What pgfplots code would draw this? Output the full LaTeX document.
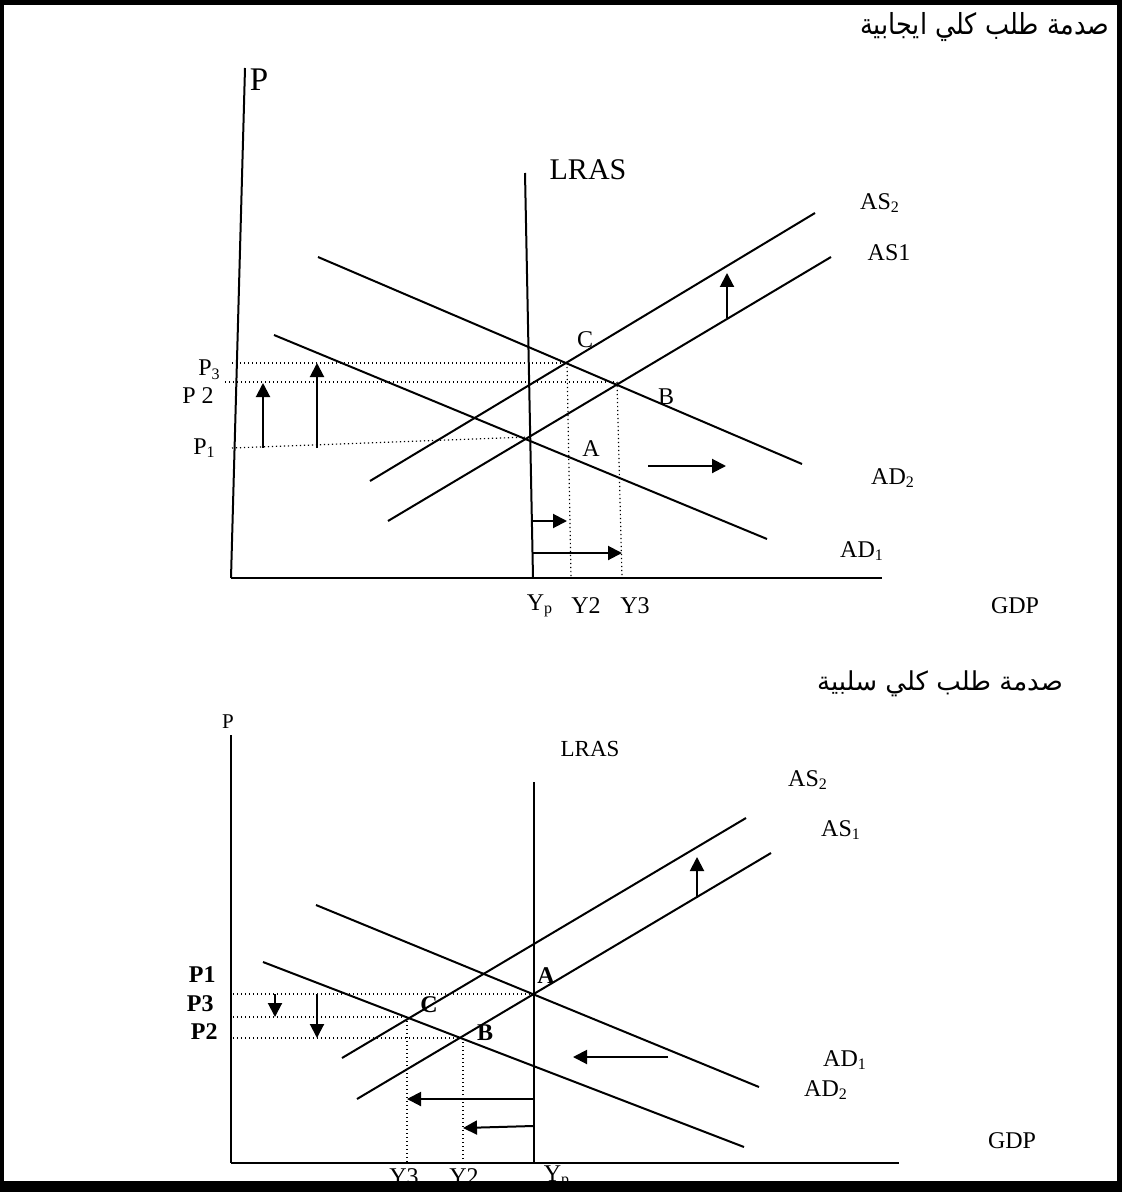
\documentclass[border=0pt]{standalone}
\usepackage{pgfplots}
\pgfplotsset{compat=1.18}
\usetikzlibrary{arrows.meta}
\usepackage{graphicx}
\usepackage{fontspec}
\setmainfont{Liberation Serif}
\newfontfamily\arabicfont[Script=Arabic]{DejaVu Sans}
\TeXXeTstate=1

\newcommand{\fs}[1]{\fontsize{#1}{#1}\selectfont}
\tikzset{
  curve/.style={black, line width=1pt},
  guide/.style={black, line width=0.6pt, dash pattern=on 0.6pt off 1.4pt},
  arr/.style={black, line width=1pt, -{Triangle[length=7pt,width=7pt]}},
  lbl/.style={inner sep=0pt, font=\fs{12}},
}

\begin{document}
\begin{tikzpicture}
\begin{axis}[
  x=0.5pt, y=0.5pt, y dir=reverse,
  xmin=0, xmax=1122, ymin=0, ymax=1192,
  hide axis, clip=false, scale only axis,
  every axis plot/.append style={no markers},
]
% ---------- positive demand shock ----------
% axes
\addplot[curve] coordinates {(245,68) (231,578)};
\addplot[curve] coordinates {(231,578) (882,578)};
% long-run supply
\addplot[curve] coordinates {(525,173) (533,578)};
% demand curves
\addplot[curve] coordinates {(318,257) (802,464)};   % AD2
\addplot[curve] coordinates {(274,335) (767,539)};   % AD1
% short-run supply curves
\addplot[curve] coordinates {(370,481) (815,213)};   % AS2
\addplot[curve] coordinates {(388,521) (831,257)};   % AS1
% price and output guides
\addplot[guide] coordinates {(232,363) (567,363)};
\addplot[guide] coordinates {(225,382) (617,382)};
\addplot[guide] coordinates {(232,448) (528,437)};
\addplot[guide] coordinates {(567,363) (571,578)};
\addplot[guide] coordinates {(617,382) (622,578)};
% shift arrows
\addplot[arr] coordinates {(263,448) (263,383)};
\addplot[arr] coordinates {(317,448) (317,363)};
\addplot[arr] coordinates {(727,318) (727,273)};
\addplot[arr] coordinates {(648,466) (726,466)};
\addplot[arr] coordinates {(532,521) (567,521)};
\addplot[arr] coordinates {(533,553) (622,553)};
% labels
\node[lbl, font=\fs{16.5}] at (axis cs:259,80) {P};
\node[lbl, font=\fs{15}] at (axis cs:588,170) {LRAS};
\node[lbl] at (axis cs:880,203) {AS\textsubscript{2}};
\node[lbl] at (axis cs:889,253) {AS1};
\node[lbl] at (axis cs:585,340) {C};
\node[lbl] at (axis cs:666,397) {B};
\node[lbl] at (axis cs:591,449) {A};
\node[lbl, anchor=east] at (axis cs:221,370) {P\textsubscript{3}};
\node[lbl, anchor=east] at (axis cs:214,396) {P 2};
\node[lbl, anchor=east] at (axis cs:216,448) {P\textsubscript{1}};
\node[lbl] at (axis cs:540,606) {Y\textsubscript{p}};
\node[lbl] at (axis cs:586,606) {Y2};
\node[lbl] at (axis cs:635,606) {Y3};
\node[lbl] at (axis cs:1015,606) {GDP};
\node[lbl] at (axis cs:893,478) {AD\textsubscript{2}};
\node[lbl] at (axis cs:862,551) {AD\textsubscript{1}};
\node[lbl, anchor=east] at (axis cs:1110,27)
  {\scalebox{0.88}[1]{\arabicfont\fs{14.5}\beginR صدمة طلب كلي ايجابية\endR}};

% ---------- negative demand shock ----------
\addplot[curve] coordinates {(231,735) (231,1163)};
\addplot[curve] coordinates {(231,1163) (899,1163)};
\addplot[curve] coordinates {(534,782) (534,1163)};
\addplot[curve] coordinates {(316,905) (759,1087)};   % AD1
\addplot[curve] coordinates {(263,962) (744,1147)};   % AD2
\addplot[curve] coordinates {(342,1058) (746,818)};   % AS2
\addplot[curve] coordinates {(357,1099) (771,853)};   % AS1
\addplot[guide] coordinates {(233,994) (534,994)};
\addplot[guide] coordinates {(233,1017) (407,1017)};
\addplot[guide] coordinates {(233,1038) (462,1038)};
\addplot[guide] coordinates {(407,1017) (407,1163)};
\addplot[guide] coordinates {(463,1038) (463,1163)};
\addplot[arr] coordinates {(275,994) (275,1017)};
\addplot[arr] coordinates {(317,994) (317,1038)};
\addplot[arr] coordinates {(697,898) (697,857)};
\addplot[arr] coordinates {(668,1057) (573,1057)};
\addplot[arr] coordinates {(533,1099) (407,1099)};
\addplot[arr] coordinates {(533,1126) (463,1128)};
\node[lbl, font=\fs{10.5}] at (axis cs:228,722) {P};
\node[lbl, font=\fs{11.5}] at (axis cs:590,749) {LRAS};
\node[lbl] at (axis cs:808,780) {AS\textsubscript{2}};
\node[lbl] at (axis cs:841,830) {AS\textsubscript{1}};
\node[lbl, font=\fs{12}\bfseries] at (axis cs:546,976) {A};
\node[lbl, font=\fs{12}\bfseries] at (axis cs:429,1005) {C};
\node[lbl, font=\fs{12}\bfseries] at (axis cs:485,1033) {B};
\node[lbl, font=\fs{12}\bfseries, anchor=east] at (axis cs:216,975) {P1};
\node[lbl, font=\fs{12}\bfseries, anchor=east] at (axis cs:214,1004) {P3};
\node[lbl, font=\fs{12}\bfseries, anchor=east] at (axis cs:218,1032) {P2};
\node[lbl] at (axis cs:404,1177) {Y3};
\node[lbl] at (axis cs:464,1177) {Y2};
\node[lbl] at (axis cs:557,1177) {Y\textsubscript{p}};
\node[lbl] at (axis cs:1012,1141) {GDP};
\node[lbl] at (axis cs:845,1060) {AD\textsubscript{1}};
\node[lbl] at (axis cs:826,1090) {AD\textsubscript{2}};
\node[lbl] at (axis cs:940,684)
  {\arabicfont\fs{13}\beginR صدمة طلب كلي سلبية\endR};

% page frame
\fill[black] (axis cs:0,0) rectangle (axis cs:1122,5);
\fill[black] (axis cs:0,0) rectangle (axis cs:4,1192);
\fill[black] (axis cs:1117,0) rectangle (axis cs:1122,1192);
\fill[black] (axis cs:0,1181) rectangle (axis cs:1122,1192);
\end{axis}
\end{tikzpicture}
\end{document}
